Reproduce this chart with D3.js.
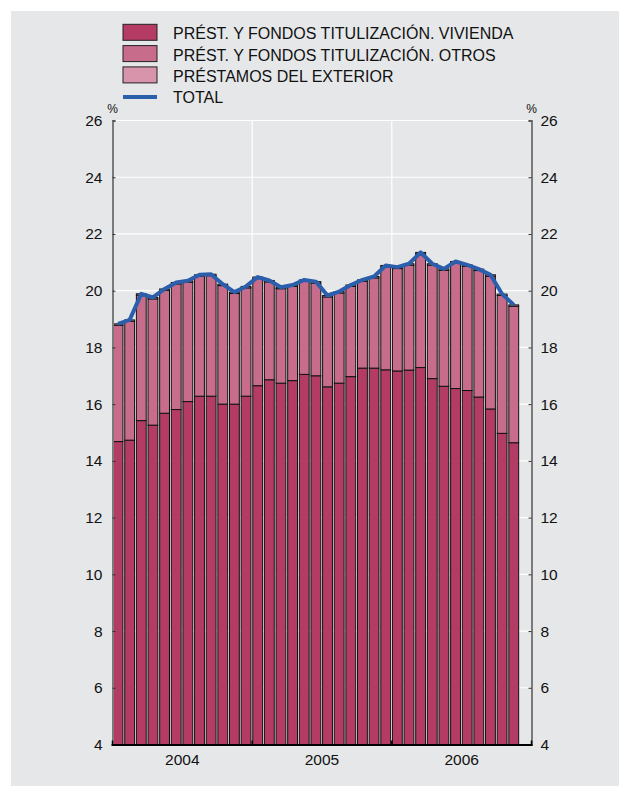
<!DOCTYPE html>
<html>
<head>
<meta charset="utf-8">
<script src="https://cdn.jsdelivr.net/npm/d3@7/dist/d3.min.js"></script>
<style>
  html, body { margin: 0; padding: 0; background: #ffffff; }
  svg { display: block; }
  text { font-family: "Liberation Sans", Arial, Helvetica, sans-serif; fill: #111; }
</style>
</head>
<body>
<svg id="chart" width="630" height="796"></svg>
<script>
// Monthly observations, Jan 2004 – Nov 2006 (%)
const months = [
  "2004-01","2004-02","2004-03","2004-04","2004-05","2004-06","2004-07","2004-08","2004-09","2004-10","2004-11","2004-12",
  "2005-01","2005-02","2005-03","2005-04","2005-05","2005-06","2005-07","2005-08","2005-09","2005-10","2005-11","2005-12",
  "2006-01","2006-02","2006-03","2006-04","2006-05","2006-06","2006-07","2006-08","2006-09","2006-10","2006-11"
];
const vivienda = [
  14.68,14.73,15.42,15.26,15.68,15.81,16.09,16.28,16.28,16.00,16.00,16.28,
  16.65,16.86,16.74,16.83,17.05,17.00,16.61,16.74,16.97,17.27,17.27,17.21,
  17.17,17.20,17.29,16.90,16.63,16.55,16.48,16.25,15.83,14.97,14.64
];
const otros = [
  4.10,4.19,4.42,4.45,4.33,4.43,4.21,4.23,4.25,4.18,3.90,3.82,
  3.78,3.45,3.33,3.32,3.28,3.27,3.17,3.18,3.18,3.06,3.18,3.63,
  3.61,3.70,4.01,4.00,4.09,4.43,4.38,4.46,4.68,4.86,4.81
];
const exterior = [
  0.05,0.05,0.05,0.05,0.05,0.05,0.05,0.05,0.05,0.05,0.05,0.05,
  0.05,0.05,0.05,0.05,0.05,0.05,0.05,0.05,0.05,0.05,0.05,0.05,
  0.05,0.05,0.05,0.05,0.05,0.05,0.05,0.05,0.05,0.05,0.05
];
const years = ["2004", "2005", "2006"];
const yTicks = [4, 6, 8, 10, 12, 14, 16, 18, 20, 22, 24, 26];

const seriesNames = [
  "PRÉST. Y FONDOS TITULIZACIÓN. VIVIENDA",
  "PRÉST. Y FONDOS TITULIZACIÓN. OTROS",
  "PRÉSTAMOS DEL EXTERIOR"
];
const colors = { viv: "#b43c64", otr: "#c86c8c", ext: "#d894aa", total: "#2b5eab" };
const font = '"Liberation Sans", Arial, Helvetica, sans-serif';

const svg = d3.select("#chart");

// grey panel
svg.append("rect").attr("x", 11).attr("y", 11).attr("width", 608).attr("height", 775)
  .attr("fill", "#e6e7e9");

const plotLeft = 112.5, plotRight = 531.5, plotTop = 120.5, plotBottom = 744.5;
const x = d3.scaleLinear().domain([0, 36]).range([plotLeft, plotRight]);
// axis starts at 4%: bars are cut at the bottom of the frame
const y = d3.scaleLinear().domain([4, 26]).range([plotBottom, plotTop]).clamp(true);

// gridlines
const grid = svg.append("g");
grid.selectAll("line.h").data(yTicks.slice(1)).join("line")
  .attr("x1", plotLeft).attr("x2", plotRight)
  .attr("y1", d => y(d)).attr("y2", d => y(d))
  .attr("stroke", "#ffffff").attr("stroke-width", 1.2);
grid.selectAll("line.v").data([12, 24]).join("line")
  .attr("x1", d => x(d)).attr("x2", d => x(d))
  .attr("y1", plotTop).attr("y2", plotBottom)
  .attr("stroke", "#ffffff").attr("stroke-width", 1.2);

// stacked data
const rows = months.map((m, i) => ({ i, viv: vivienda[i], otr: otros[i], ext: exterior[i] }));
const stack = d3.stack().keys(["viv", "otr", "ext"]);
const layers = stack(rows);

const barW = (x(1) - x(0)) - 1.8;
svg.append("g").selectAll("g").data(layers).join("g")
  .attr("fill", d => colors[d.key])
  .selectAll("rect").data(d => d).join("rect")
  .attr("x", d => x(d.data.i) + 0.6)
  .attr("width", barW)
  .attr("y", d => y(d[1]))
  .attr("height", d => y(d[0]) - y(d[1]))
  .attr("stroke", "#111").attr("stroke-width", 1);

// total line
const totals = rows.map(r => ({ i: r.i, v: r.viv + r.otr + r.ext }));
svg.append("path").datum(totals)
  .attr("fill", "none").attr("stroke", colors.total).attr("stroke-width", 4)
  .attr("stroke-linejoin", "round")
  .attr("d", d3.line().x(d => x(d.i) + 0.6 + barW / 2).y(d => y(d.v)));

// left axis
const axL = svg.append("g").attr("transform", `translate(${plotLeft},0)`)
  .call(d3.axisLeft(y).tickValues(yTicks).tickSize(-3).tickPadding(10));
axL.select(".domain").attr("stroke", "#7a7a7a").attr("stroke-width", 2);
axL.selectAll(".tick line").attr("stroke", "#333");
axL.selectAll(".tick text").style("font-size", "15.5px")
  .style("font-family", font).attr("fill", "#111");

// right axis
const axR = svg.append("g").attr("transform", `translate(${plotRight},0)`)
  .call(d3.axisRight(y).tickValues(yTicks).tickSize(-3).tickPadding(9));
axR.select(".domain").attr("stroke", "#7a7a7a").attr("stroke-width", 2);
axR.selectAll(".tick line").attr("stroke", "#333");
axR.selectAll(".tick text").style("font-size", "15.5px")
  .style("font-family", font).attr("fill", "#111");

// bottom axis
svg.append("line").attr("x1", plotLeft - 1).attr("x2", plotRight + 1)
  .attr("y1", plotBottom + 0.5).attr("y2", plotBottom + 0.5)
  .attr("stroke", "#000").attr("stroke-width", 2.2);
svg.append("g").selectAll("line").data([0, 12, 24, 36]).join("line")
  .attr("x1", d => x(d)).attr("x2", d => x(d))
  .attr("y1", plotBottom).attr("y2", plotBottom - 4)
  .attr("stroke", "#000").attr("stroke-width", 1.5);
svg.append("g").selectAll("text").data(years).join("text")
  .attr("x", (d, k) => x(k * 12 + 6))
  .attr("y", 764.5)
  .attr("text-anchor", "middle")
  .style("font-size", "15.5px")
  .text(d => d);

// unit labels
svg.append("text").attr("x", plotLeft).attr("y", 113).attr("text-anchor", "middle")
  .style("font-size", "12px").text("%");
svg.append("text").attr("x", plotRight).attr("y", 113).attr("text-anchor", "middle")
  .style("font-size", "12px").text("%");

// legend
const legend = svg.append("g");
const legKeys = ["viv", "otr", "ext"];
legKeys.forEach((k, j) => {
  const by = 39.3 + j * 21.3;
  legend.append("rect").attr("x", 123).attr("y", by - 15).attr("width", 34).attr("height", 16)
    .attr("fill", colors[k]).attr("stroke", "#222").attr("stroke-width", 1);
  legend.append("text").attr("x", 173).attr("y", by).style("font-size", "16px").text(seriesNames[j]);
});
legend.append("line").attr("x1", 123).attr("x2", 157).attr("y1", 97).attr("y2", 97)
  .attr("stroke", colors.total).attr("stroke-width", 4);
legend.append("text").attr("x", 173).attr("y", 103.2).style("font-size", "16px").text("TOTAL");
</script>
</body>
</html>
